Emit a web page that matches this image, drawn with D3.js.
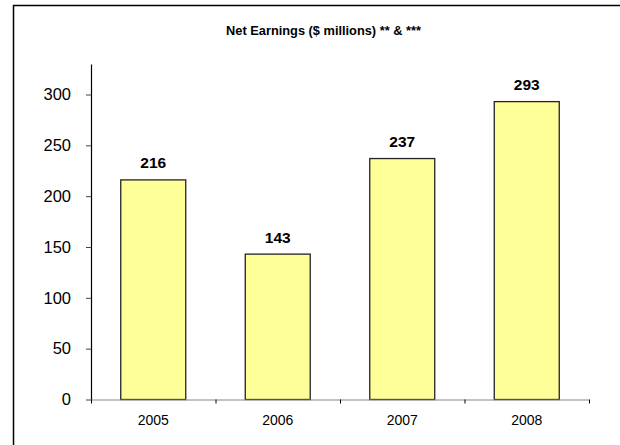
<!DOCTYPE html>
<html>
<head>
<meta charset="utf-8">
<script src="https://cdn.jsdelivr.net/npm/d3@7"></script>
<style>
  html, body { margin: 0; padding: 0; background: #fff; }
  svg { display: block; font-family: "Liberation Sans", Arial, sans-serif; }
</style>
</head>
<body>
<svg id="chart" width="620" height="445"></svg>
<script>
const title = "Net Earnings ($ millions) ** & ***";
const years = ["2005", "2006", "2007", "2008"];
const earnings = [216, 143, 237, 293];
const yTicks = [0, 50, 100, 150, 200, 250, 300];
const yMax = 330;

(function () {
const svg = d3.select("#chart");
const plotLeft = 91, plotRight = 589, plotTop = 64, plotBottom = 399.5;

// frame (top and left edges visible)
svg.append("line").attr("x1", 13).attr("x2", 620).attr("y1", 5.5).attr("y2", 5.5)
  .attr("stroke", "#000").attr("stroke-width", 1.5);
svg.append("line").attr("x1", 13.5).attr("x2", 13.5).attr("y1", 5).attr("y2", 445)
  .attr("stroke", "#000").attr("stroke-width", 1.5);

svg.append("text").attr("x", 323.5).attr("y", 35).attr("text-anchor", "middle")
  .attr("font-size", "12.8px").attr("font-weight", "bold").attr("fill", "#000").text(title);

const x = d3.scaleBand().domain(years).range([plotLeft, plotRight]).paddingInner(0.478).paddingOuter(0.239);
const y = d3.scaleLinear().domain([0, yMax]).range([plotBottom, plotTop]);

// bars
svg.append("g").selectAll("rect").data(years).join("rect")
  .attr("x", d => x(d)).attr("width", x.bandwidth())
  .attr("y", (d, i) => y(earnings[i])).attr("height", (d, i) => y(0) - y(earnings[i]))
  .attr("fill", "#FFFF99").attr("stroke", "#222").attr("stroke-width", 1.3);

// value labels
svg.append("g").selectAll("text").data(years).join("text")
  .attr("x", d => x(d) + x.bandwidth() / 2).attr("y", (d, i) => y(earnings[i]) - 11.5)
  .attr("text-anchor", "middle").attr("font-size", "15.5px").attr("font-weight", "bold")
  .attr("fill", "#000").text((d, i) => earnings[i]);

// y axis
const yAxis = d3.axisLeft(y).tickValues(yTicks).tickSize(5).tickPadding(15).tickSizeOuter(0);
const gy = svg.append("g").attr("transform", `translate(${plotLeft},0)`).call(yAxis);
gy.select(".domain").attr("stroke", "#000").attr("stroke-width", 1.2);
gy.selectAll(".tick line").attr("stroke", "#444");
gy.selectAll(".tick text").attr("font-size", "16.5px").attr("fill", "#000")
  .attr("font-family", "Liberation Sans, Arial, sans-serif");

// x axis with ticks between categories
const xb = d3.scaleLinear().domain([0, years.length]).range([plotLeft, plotRight]);
const gx = svg.append("g").attr("transform", `translate(0,${plotBottom})`)
  .call(d3.axisBottom(xb).tickValues(d3.range(years.length + 1)).tickSize(4).tickFormat(""));
gx.select(".domain").attr("stroke", "#888").attr("stroke-width", 1.2).attr("d", `M${plotLeft},0.5H${plotRight}`);
gx.selectAll(".tick line").attr("stroke", "#000");

svg.append("g").selectAll("text").data(years).join("text")
  .attr("x", d => x(d) + x.bandwidth() / 2).attr("y", 425)
  .attr("text-anchor", "middle").attr("font-size", "14px").attr("fill", "#000").text(d => d);
})();
</script>
</body>
</html>
